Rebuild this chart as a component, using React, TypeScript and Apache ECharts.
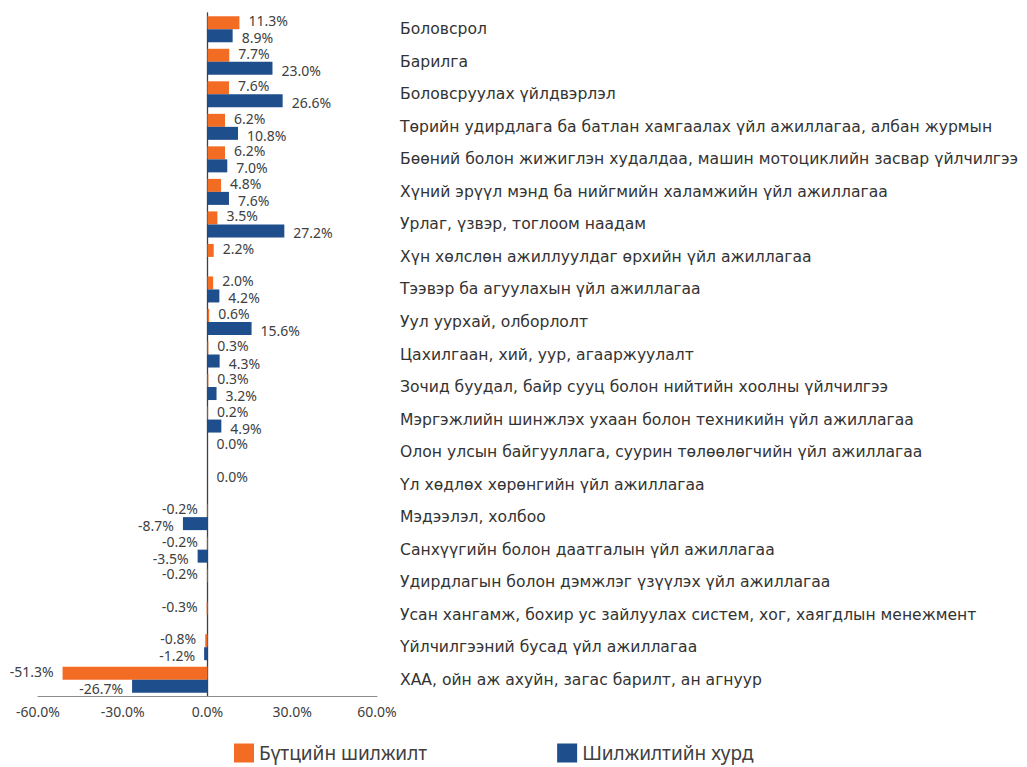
import React, { useEffect, useRef } from "react";
import * as echarts from "echarts";

const categories = [
  "Боловсрол",
  "Барилга",
  "Боловсруулах үйлдвэрлэл",
  "Төрийн удирдлага ба батлан хамгаалах үйл ажиллагаа, албан журмын",
  "Бөөний болон жижиглэн худалдаа, машин мотоциклийн засвар үйлчилгээ",
  "Хүний эрүүл мэнд ба нийгмийн халамжийн үйл ажиллагаа",
  "Урлаг, үзвэр, тоглоом наадам",
  "Хүн хөлслөн ажиллуулдаг өрхийн үйл ажиллагаа",
  "Тээвэр ба агуулахын үйл ажиллагаа",
  "Уул уурхай, олборлолт",
  "Цахилгаан, хий, уур, агааржуулалт",
  "Зочид буудал, байр сууц болон нийтийн хоолны үйлчилгээ",
  "Мэргэжлийн шинжлэх ухаан болон техникийн үйл ажиллагаа",
  "Олон улсын байгууллага, суурин төлөөлөгчийн үйл ажиллагаа",
  "Үл хөдлөх хөрөнгийн үйл ажиллагаа",
  "Мэдээлэл, холбоо",
  "Санхүүгийн болон даатгалын үйл ажиллагаа",
  "Удирдлагын болон дэмжлэг үзүүлэх үйл ажиллагаа",
  "Усан хангамж, бохир ус зайлуулах систем, хог, хаягдлын менежмент",
  "Үйлчилгээний бусад үйл ажиллагаа",
  "ХАА, ойн аж ахуйн, загас барилт, ан агнуур",
];

const structuralShift = [
  11.3, 7.7, 7.6, 6.2, 6.2, 4.8, 3.5, 2.2, 2.0, 0.6, 0.3, 0.3, 0.2, 0.0, 0.0,
  -0.2, -0.2, -0.2, -0.3, -0.8, -51.3,
];

const shiftRate: (number | null)[] = [
  8.9, 23.0, 26.6, 10.8, 7.0, 7.6, 27.2, null, 4.2, 15.6, 4.3, 3.2, 4.9, null,
  null, -8.7, -3.5, null, null, -1.2, -26.7,
];

const xTicks = { min: -60, max: 60, interval: 30 };
const seriesNames = ["Бүтцийн шилжилт", "Шилжилтийн хурд"];

const FONT = "'Noto Sans', sans-serif";
const CAT_FONT = "'DejaVu Sans', sans-serif";

function toData(arr: (number | null)[], dy: number) {
  return arr.map((v) =>
    v === null
      ? null
      : {
          value: v,
          label: {
            position: v < 0 ? "left" : "right",
            offset: [0, dy],
          },
        }
  );
}

export default function App() {
  const ref = useRef<HTMLDivElement>(null);
  useEffect(() => {
    document.body.style.margin = "0";
    const chart = echarts.init(ref.current!, null, { renderer: "svg" });
    const labelCommon = {
      show: true,
      distance: 9,
      color: "#404040",
      fontSize: 14,
      fontFamily: FONT,
      formatter: (p: any) => Number(p.value).toFixed(1) + "%",
    };
    chart.setOption({
      animation: false,
      textStyle: { fontFamily: FONT },
      grid: { left: 38, right: 650, top: 13, bottom: 71, containLabel: false },
      legend: {
        left: 229,
        top: 737,
        padding: 5,
        itemWidth: 20,
        itemHeight: 19,
        itemGap: 130,
        icon: "rect",
        textStyle: { fontSize: 19, color: "#404040", fontFamily: FONT, lineHeight: 22 },
        data: seriesNames,
      },
      xAxis: {
        type: "value",
        min: xTicks.min,
        max: xTicks.max,
        interval: xTicks.interval,
        axisLine: { show: true, lineStyle: { color: "#8c8c8c", width: 1 } },
        axisTick: { show: false },
        splitLine: { show: false },
        axisLabel: {
          color: "#404040",
          fontSize: 14,
          fontFamily: FONT,
          margin: 8,
          formatter: (v: number) => v.toFixed(1) + "%",
        },
      },
      yAxis: [
        {
          type: "category",
          data: categories,
          inverse: true,
          axisLine: { show: true, onZero: true, lineStyle: { color: "#404040", width: 1.3 } },
          axisTick: { show: false },
          axisLabel: { show: false },
          splitLine: { show: false },
        },
        {
          type: "category",
          data: categories,
          inverse: true,
          position: "right",
          axisLine: { show: false },
          axisTick: { show: false },
          splitLine: { show: false },
          axisLabel: {
            align: "left",
            margin: 23,
            color: "#333333",
            fontSize: 15.6,
            fontFamily: CAT_FONT,
          },
        },
      ],
      series: [
        {
          name: seriesNames[0],
          type: "bar",
          yAxisIndex: 0,
          data: toData(structuralShift, -2),
          itemStyle: { color: "#F26C23" },
          barGap: "0%",
          barCategoryGap: "20%",
          label: labelCommon,
        },
        {
          name: seriesNames[1],
          type: "bar",
          yAxisIndex: 0,
          data: toData(shiftRate, 2),
          itemStyle: { color: "#1F4E8C" },
          barGap: "0%",
          barCategoryGap: "20%",
          label: labelCommon,
        },
      ],
    });
    return () => chart.dispose();
  }, []);
  return <div ref={ref} style={{ width: 1027, height: 767 }} />;
}
